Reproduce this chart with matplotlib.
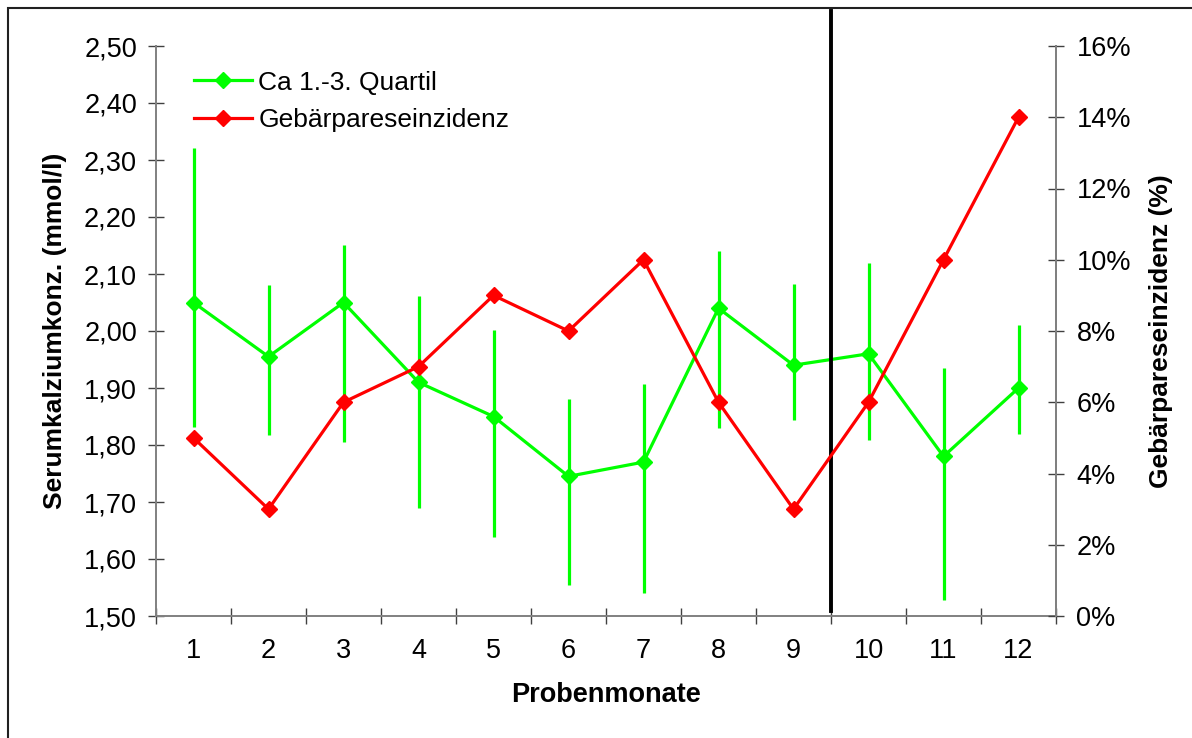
import matplotlib
matplotlib.use('Agg')
import matplotlib.pyplot as plt
import matplotlib.ticker as ticker
from matplotlib.patches import Rectangle

plt.rcParams['font.family'] = ['Liberation Sans', 'DejaVu Sans']

months = [1, 2, 3, 4, 5, 6, 7, 8, 9, 10, 11, 12]
ca_median = [2.05, 1.955, 2.05, 1.91, 1.85, 1.745, 1.77, 2.04, 1.94, 1.96, 1.78, 1.90]
ca_q1 = [1.832, 1.818, 1.805, 1.689, 1.639, 1.554, 1.540, 1.830, 1.844, 1.809, 1.528, 1.819]
ca_q3 = [2.321, 2.081, 2.151, 2.061, 2.002, 1.881, 1.907, 2.140, 2.082, 2.119, 1.935, 2.011]
incidence = [5, 3, 6, 7, 9, 8, 10, 6, 3, 6, 10, 14]

green = '#00FF00'
red = '#FF0000'
fs = 19.5

fig = plt.figure(figsize=(11.92, 7.38), dpi=100)
ax = fig.add_axes([156 / 1192, 1 - 616 / 738, 900 / 1192, 570 / 738])
ax2 = ax.twinx()

# quartile range as plain vertical bars, median line on top
ax.vlines(months, ca_q1, ca_q3, color=green, lw=2.3, zorder=2)
ax.plot(months, ca_median, color=green, lw=2.3, marker='D', ms=8.5,
        label='Ca 1.-3. Quartil', zorder=3)
ax2.plot(months, incidence, color=red, lw=2.3, marker='D', ms=8.5,
         label='Gebärpareseinzidenz', zorder=3)

# separator between month 9 and 10
ax.plot([9.5, 9.5], [1.509, 2.561], color='black', lw=2.8, clip_on=False, zorder=4)

ax.set_xlim(0.5, 12.5)
ax.set_ylim(1.5, 2.5)
ax2.set_ylim(0, 16)

ax.set_yticks([1.5 + 0.1 * i for i in range(11)])
ax.yaxis.set_major_formatter(ticker.FuncFormatter(lambda v, p: f'{v:.2f}'.replace('.', ',')))
ax2.set_yticks(range(0, 17, 2))
ax2.yaxis.set_major_formatter(ticker.FuncFormatter(lambda v, p: f'{int(round(v))}%'))

ax.set_xticks(months)
ax.set_xticks([0.5 + i for i in range(13)], minor=True)
ax.tick_params(axis='x', which='major', length=0, pad=16, labelsize=fs)
ax.tick_params(axis='x', which='minor', direction='inout', length=11.5, width=1, color='#404040')
ax.tick_params(axis='y', direction='inout', length=11.5, width=1, pad=8, labelsize=fs, color='#404040')
ax2.tick_params(axis='y', direction='inout', length=11.5, width=1, pad=9, labelsize=fs, color='#404040')

for a in (ax, ax2):
    a.spines['top'].set_visible(False)
    for s in ('left', 'right', 'bottom'):
        a.spines[s].set_color('#808080')
        a.spines[s].set_linewidth(1.4)
ax2.spines['left'].set_visible(False)
ax2.spines['bottom'].set_visible(False)

ax.set_xlabel('Probenmonate', fontsize=fs, fontweight='bold', labelpad=13)
ax.set_ylabel('Serumkalziumkonz. (mmol/l)', fontsize=19, fontweight='bold', labelpad=12)
ax2.set_ylabel('Gebärpareseinzidenz (%)', fontsize=19, fontweight='bold', labelpad=13)

h1, l1 = ax.get_legend_handles_labels()
h2, l2 = ax2.get_legend_handles_labels()
ax2.legend(h1 + h2, l1 + l2, loc='upper left', bbox_to_anchor=(183 / 1192, 1 - 60 / 738),
           bbox_transform=fig.transFigure, frameon=False, fontsize=19,
           handlelength=2.2, handletextpad=0.25, labelspacing=0.52, borderaxespad=0)

fig.patches.append(Rectangle((8 / 1192, -0.05), 1.1, 1 - 8 / 738 + 0.05, transform=fig.transFigure,
                             fill=False, edgecolor='#202020', lw=1.5))

fig.savefig('out.png', dpi=100)
